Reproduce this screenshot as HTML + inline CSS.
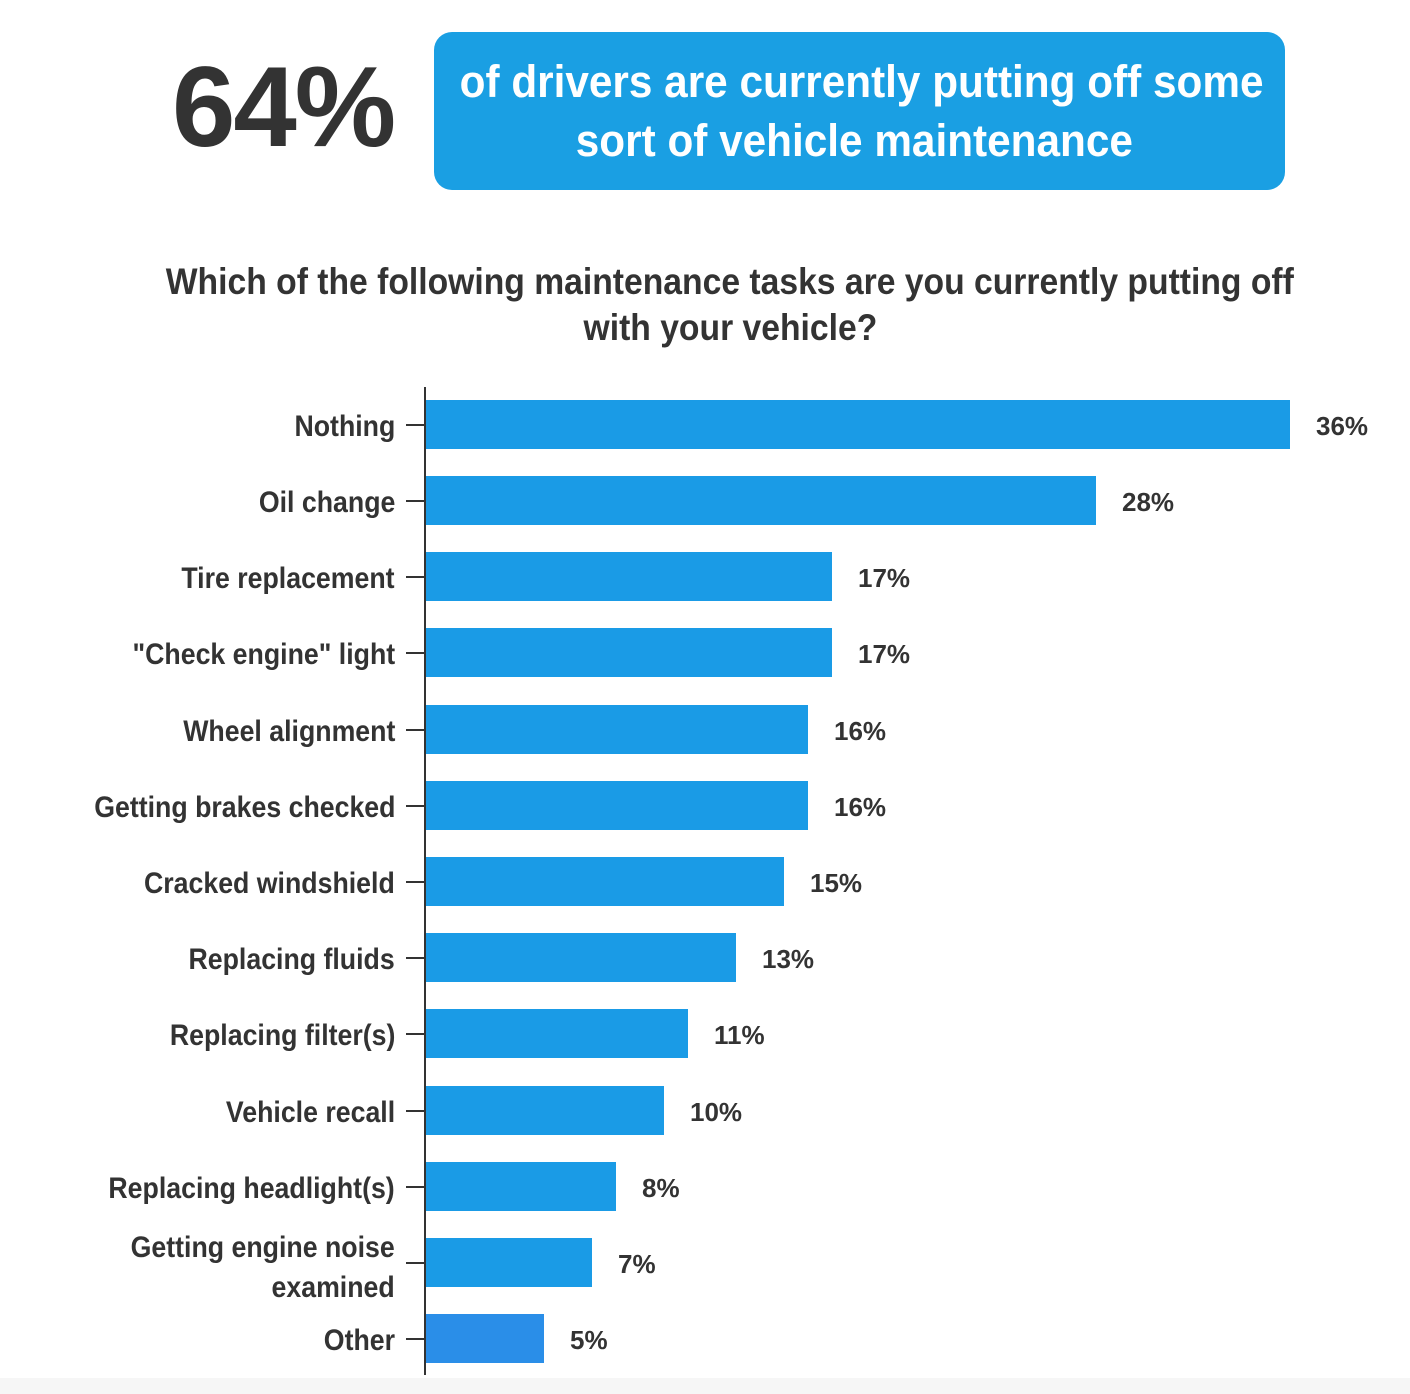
<!DOCTYPE html>
<html><head><meta charset="utf-8"><style>
body{margin:0;width:1410px;height:1394px;background:#fff;position:relative;overflow:hidden;font-family:"Liberation Sans",sans-serif;font-weight:bold;color:#333}
.a{position:absolute}
.big{left:172px;top:42px;font-size:114px;font-weight:bold;color:#333;letter-spacing:-2px}
.box{left:434px;top:32px;width:840px;height:158px;background:#1a9fe3;border-radius:18px;color:#fff;text-align:center;font-size:45px;line-height:59px;box-sizing:border-box;padding-top:20px;white-space:nowrap}
.box span,.q span{display:inline-block;transform-origin:center}
.box span{transform:scaleX(0.94)}
.q{left:0;width:1460px;text-align:center;font-size:37px;line-height:46px;top:259px;white-space:nowrap}
.q span{transform:scaleX(0.91)}
.lbl{right:1015px;font-size:30px;text-align:right;line-height:36px;white-space:nowrap;transform:scaleX(0.89);transform-origin:right center}
.bar{left:426px;height:49px;background:#1a9be6}
.val{font-size:26px}
.tick{left:406px;width:19px;height:2px;background:#333}
</style></head><body>
<div class="a big">64%</div>
<div class="a" style="left:434px;top:32px;width:851px;height:158px;background:#1a9fe3;border-radius:18px"></div>
<div class="a box" style="background:none"><span>of drivers are currently putting off some</span><br><span>sort of vehicle maintenance</span></div>
<div class="a q"><span>Which of the following maintenance tasks are you currently putting off</span><br><span>with your vehicle?</span></div>
<div class="a" style="left:424px;top:387px;width:2px;height:988px;background:#333"></div>
<div class="a" style="left:0;top:1378px;width:1410px;height:16px;background:#f6f6f6"></div>

<div class="a bar" style="top:400px;width:864px"></div><div class="a tick" style="top:424px"></div><div class="a lbl" style="top:409px">Nothing</div><div class="a val" style="left:1316px;top:411px">36%</div>
<div class="a bar" style="top:476px;width:670px"></div><div class="a tick" style="top:500px"></div><div class="a lbl" style="top:485px">Oil change</div><div class="a val" style="left:1122px;top:487px">28%</div>
<div class="a bar" style="top:552px;width:406px"></div><div class="a tick" style="top:576px"></div><div class="a lbl" style="top:561px">Tire replacement</div><div class="a val" style="left:858px;top:563px">17%</div>
<div class="a bar" style="top:628px;width:406px"></div><div class="a tick" style="top:652px"></div><div class="a lbl" style="top:637px">"Check engine" light</div><div class="a val" style="left:858px;top:639px">17%</div>
<div class="a bar" style="top:705px;width:382px"></div><div class="a tick" style="top:729px"></div><div class="a lbl" style="top:714px">Wheel alignment</div><div class="a val" style="left:834px;top:716px">16%</div>
<div class="a bar" style="top:781px;width:382px"></div><div class="a tick" style="top:805px"></div><div class="a lbl" style="top:790px">Getting brakes checked</div><div class="a val" style="left:834px;top:792px">16%</div>
<div class="a bar" style="top:857px;width:358px"></div><div class="a tick" style="top:881px"></div><div class="a lbl" style="top:866px">Cracked windshield</div><div class="a val" style="left:810px;top:868px">15%</div>
<div class="a bar" style="top:933px;width:310px"></div><div class="a tick" style="top:957px"></div><div class="a lbl" style="top:942px">Replacing fluids</div><div class="a val" style="left:762px;top:944px">13%</div>
<div class="a bar" style="top:1009px;width:262px"></div><div class="a tick" style="top:1033px"></div><div class="a lbl" style="top:1018px">Replacing filter(s)</div><div class="a val" style="left:714px;top:1020px">11%</div>
<div class="a bar" style="top:1086px;width:238px"></div><div class="a tick" style="top:1110px"></div><div class="a lbl" style="top:1095px">Vehicle recall</div><div class="a val" style="left:690px;top:1097px">10%</div>
<div class="a bar" style="top:1162px;width:190px"></div><div class="a tick" style="top:1186px"></div><div class="a lbl" style="top:1171px">Replacing headlight(s)</div><div class="a val" style="left:642px;top:1173px">8%</div>
<div class="a bar" style="top:1238px;width:166px"></div><div class="a tick" style="top:1262px"></div><div class="a lbl" style="top:1228px;line-height:40px">Getting engine noise<br>examined</div><div class="a val" style="left:618px;top:1249px">7%</div>
<div class="a bar" style="top:1314px;width:118px;background:#2a8ee8"></div><div class="a tick" style="top:1338px"></div><div class="a lbl" style="top:1323px">Other</div><div class="a val" style="left:570px;top:1325px">5%</div>
</body></html>
